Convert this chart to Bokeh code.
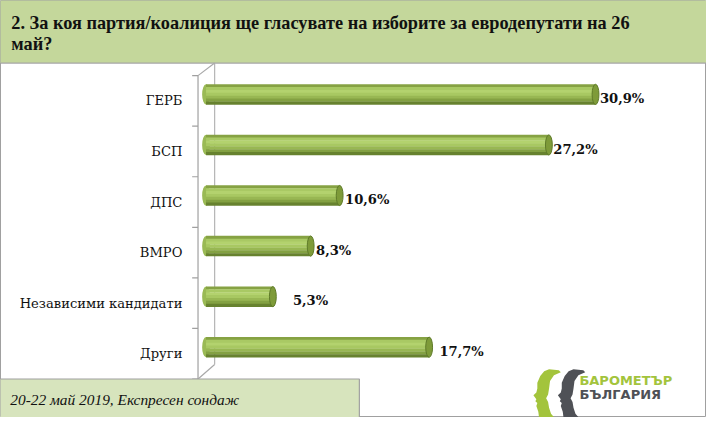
from bokeh.plotting import figure
from bokeh.models import Range1d, ColumnDataSource
from bokeh.core.properties import value
from bokeh.embed import file_html
from bokeh.resources import INLINE

# ---------------- data ----------------
categories = ["ГЕРБ", "БСП", "ДПС", "ВМРО", "Независими кандидати", "Други"]
values = [30.9, 27.2, 10.6, 8.3, 5.3, 17.7]
value_labels = ["30,9%", "27,2%", "10,6%", "8,3%", "5,3%", "17,7%"]
title_lines = ["2. За коя партия/коалиция ще гласувате на изборите за евродепутати на 26", "май?"]
footnote = "20-22 май 2019, Експресен сондаж"
logo_lines = ["БАРОМЕТЪР", "БЪЛГАРИЯ"]

# ---------------- style / layout ----------------
label_gap_px = [1, 1, 2, 2, 17, 7]
W, H = 706, 417            # figure size
RW, RH = 722, 433          # design size
SX, SY = W / RW, H / RH
XS, X0 = 12.89, 210.2      # design px per percent, design px of value 0
YS, Y0 = 52.5, 366.75      # design px per category, design px of last category centre


def dx(px):
    return (px - X0) / XS


def dy(py):
    return (Y0 - py) / YS


def fs(px):
    return "%.1fpx" % (px * SY)


p = figure(width=W, height=H, output_backend="svg", toolbar_location=None,
           x_range=Range1d(dx(0), dx(RW)), y_range=Range1d(dy(RH), dy(0)),
           x_axis_location=None, y_axis_location=None, min_border=0)
p.xgrid.grid_line_color = None
p.ygrid.grid_line_color = None
p.outline_line_color = "#a0a0a0"
p.background_fill_color = "white"
p.border_fill_color = "white"

n = len(categories)
pos = [n - 1 - i for i in range(n)]
bar_off = 6.75 / YS          # bars drawn a bit above the category centre
bar_y = [c + bar_off for c in pos]

# title band
p.quad(left=[dx(-2)], right=[dx(RW + 2)], top=[dy(-2)], bottom=[dy(65)],
       fill_color="#c4d79b", line_color=None)
p.segment(x0=[dx(0)], y0=[dy(65)], x1=[dx(RW)], y1=[dy(65)], line_color="#a6a6a6", line_width=1.2)
p.text(x=[dx(11), dx(11)], y=[dy(23), dy(45)], text=title_lines,
       text_font=value("Liberation Serif"), text_font_style="bold", text_font_size=fs(19),
       text_color="#111111", text_baseline="alphabetic", text_align="left")

# 3D walls / axis
bounds = [c + 0.5 for c in pos] + [pos[-1] - 0.5]
p.segment(x0=[dx(202)], y0=[bounds[0]], x1=[dx(202)], y1=[bounds[-1]], line_color="#a0a0a0", line_width=1.2)
p.segment(x0=[dx(219)], y0=[dy(65)], x1=[dx(219)], y1=[dy(378)], line_color="#b4b4b4", line_width=1.2)
p.segment(x0=[dx(202), dx(202)], y0=[bounds[0], bounds[-1]], x1=[dx(219), dx(219)], y1=[dy(65), dy(378)],
          line_color="#a8a8a8", line_width=1.2)
p.segment(x0=[dx(196)] * len(bounds), y0=bounds, x1=[dx(202)] * len(bounds), y1=bounds,
          line_color="#a0a0a0", line_width=1.2)

# category labels
p.text(x=[dx(186)] * n, y=pos, text=categories, text_font=value("DejaVu Serif"),
       text_font_size=fs(13.6), text_color="#111111", text_align="right", text_baseline="middle")

# cylinders
src = ColumnDataSource(dict(v=values, y=bar_y, zero=[0] * n))
p.ellipse(x="zero", y="y", width=8 * SX, height=21 * SY, width_units="screen", height_units="screen",
          fill_color="#9aba55", line_color=None, source=src)
strip_colors = ["#86a243", "#a9c964", "#b3d26e", "#a8c862", "#98b753", "#83a142", "#67822f"]
sh = 3.0
for k, col in enumerate(strip_colors):
    o = -10.5 + sh * (k + 0.5)
    ys = [b - o / YS for b in bar_y]
    p.hbar(y=ys, left=0, right=values, height=(sh + 0.3) / YS, fill_color=col, line_color=None)
p.ellipse(x="v", y="y", width=7 * SX, height=21 * SY, width_units="screen", height_units="screen",
          fill_color="#7e9b39", line_color="#5f7b29", line_width=1, source=src)

# value labels
lab_x = [v + (3.5 + g) / XS for v, g in zip(values, label_gap_px)]
lab_y = [c + 2.25 / YS for c in pos]
p.text(x=lab_x, y=lab_y, text=value_labels, text_font=value("DejaVu Serif"), text_font_style="bold",
       text_font_size=fs(13.6), text_color="#111111", text_align="left", text_baseline="middle")

# footnote box
p.quad(left=[dx(-2)], right=[dx(367)], top=[dy(393)], bottom=[dy(RH + 2)],
       fill_color="#d7e4bd", line_color="#a0a0a0", line_width=1.2)
p.text(x=[dx(10)], y=[dy(414)], text=[footnote], text_font=value("Liberation Serif"),
       text_font_style="italic", text_font_size=fs(16), text_color="#111111",
       text_baseline="alphabetic", text_align="left")

# logo
head = [(16, 0), (26, 1), (28, 3), (21, 6), (17, 12), (16, 20), (15, 26), (13, 30), (15, 34), (16, 40),
        (18, 46), (23, 52), (6, 52), (5, 44), (3, 38), (4, 35), (2, 33), (3, 31), (0, 27), (3, 24),
        (4, 20), (4, 14), (7, 7), (11, 2)]
for ox, oy, col in [(545, 383, "#a3c43c"), (570, 383, "#4f5156")]:
    p.patch(x=[dx(ox + a) for a, b in head], y=[dy(oy + b) for a, b in head], fill_color=col, line_color=None)
p.text(x=[dx(592), dx(592)], y=[dy(395), dy(409)], text=logo_lines, text_font=value("DejaVu Sans"),
       text_font_style="bold", text_font_size=fs(13.5), text_color=["#a3c43c", "#4f5156"],
       text_baseline="alphabetic", text_align="left")

open("out.html", "w").write(file_html(p, INLINE))
